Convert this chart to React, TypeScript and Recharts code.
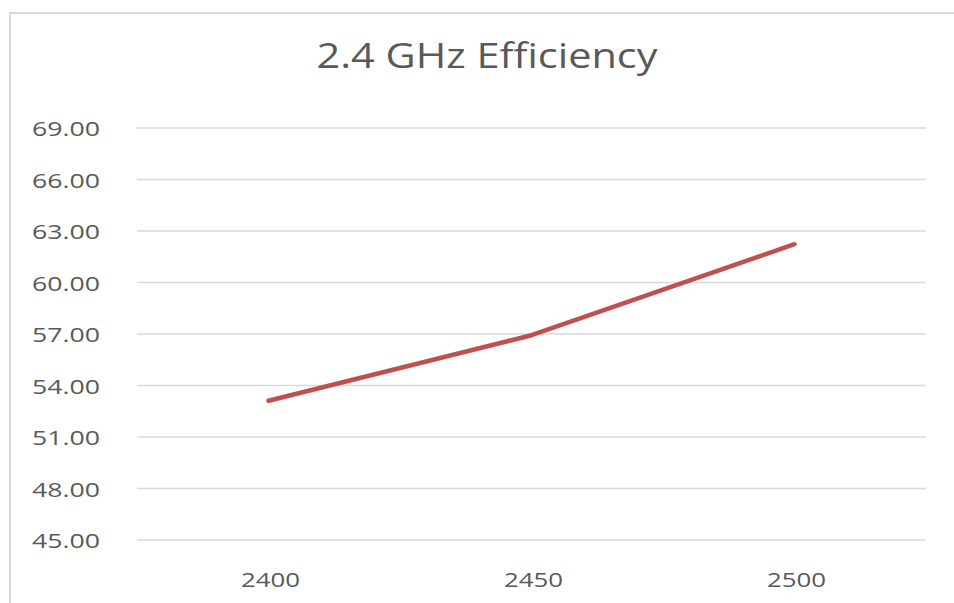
import React from "react";
import { LineChart, Line, XAxis, YAxis, CartesianGrid } from "recharts";

const frequencies = [2400, 2450, 2500];
const efficiency = [53.11, 56.93, 62.23];
const yTicks = [45, 48, 51, 54, 57, 60, 63, 66, 69];
const title = "2.4 GHz Efficiency";

const data = frequencies.map((f, i) => ({ freq: f, eff: efficiency[i] }));

const FONT = "'Open Sans', 'Segoe UI', sans-serif";
const TEXT_COLOR = "#595959";

const YTick = (props: any) => {
  const { x, y, payload } = props;
  return (
    <text
      x={x}
      y={y + 8}
      textAnchor="end"
      fontFamily={FONT}
      fontSize={20}
      fill={TEXT_COLOR}
      textLength={68}
      lengthAdjust="spacingAndGlyphs"
    >
      {Number(payload.value).toFixed(2)}
    </text>
  );
};

const XTick = (props: any) => {
  const { x, y, payload } = props;
  return (
    <text
      x={x + 2}
      y={y + 47}
      textAnchor="middle"
      fontFamily={FONT}
      fontSize={20}
      fill={TEXT_COLOR}
      textLength={59}
      lengthAdjust="spacingAndGlyphs"
    >
      {payload.value}
    </text>
  );
};

export default function App() {
  return (
    <div
      style={{
        position: "fixed",
        left: 9,
        top: 12,
        borderTop: "2px solid #D9D9D9",
        borderLeft: "2px solid #D9D9D9",
        width: 943,
        height: 589,
        background: "#fff",
      }}
    >
      <LineChart
        width={943}
        height={589}
        data={data}
        margin={{ top: 114, right: 28, left: 0, bottom: 0 }}
      >
        <text
          x={476}
          y={54}
          textAnchor="middle"
          fontFamily={FONT}
          fontSize={35}
          fill={TEXT_COLOR}
          textLength={341}
          lengthAdjust="spacingAndGlyphs"
        >
          {title}
        </text>
        <CartesianGrid vertical={false} stroke="#D9D9D9" strokeWidth={1.4} />
        <XAxis
          dataKey="freq"
          type="number"
          domain={[2375, 2525]}
          ticks={frequencies}
          axisLine={false}
          tickLine={false}
          tickSize={0}
          tickMargin={0}
          height={63}
          tick={<XTick />}
        />
        <YAxis
          type="number"
          domain={[45, 69]}
          ticks={yTicks}
          axisLine={false}
          tickLine={false}
          tickSize={0}
          tickMargin={37}
          width={126}
          tick={<YTick />}
          interval={0}
        />
        <Line
          dataKey="eff"
          type="linear"
          stroke="#C0504D"
          strokeWidth={4.5}
          strokeLinecap="round"
          strokeLinejoin="round"
          dot={false}
          activeDot={false}
          isAnimationActive={false}
        />
      </LineChart>
    </div>
  );
}
